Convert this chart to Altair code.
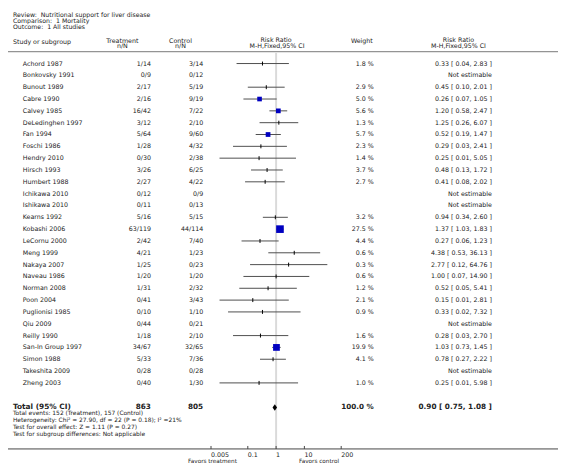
import altair as alt
import pandas as pd

# ---------------- data ----------------
studies = ["Achord 1987", "Bonkovsky 1991", "Bunout 1989", "Cabre 1990", "Calvey 1985",
           "DeLedinghen 1997", "Fan 1994", "Foschi 1986", "Hendry 2010", "Hirsch 1993",
           "Humbert 1988", "Ichikawa 2010", "Ishikawa 2010", "Kearns 1992", "Kobashi 2006",
           "LeCornu 2000", "Meng 1999", "Nakaya 2007", "Naveau 1986", "Norman 2008",
           "Poon 2004", "Puglionisi 1985", "Qiu 2009", "Reilly 1990", "San-In Group 1997",
           "Simon 1988", "Takeshita 2009", "Zheng 2003"]
treatment_nN = ["1/14", "0/9", "2/17", "2/16", "16/42", "3/12", "5/64", "1/28", "0/30", "3/26",
                "2/27", "0/12", "0/11", "5/16", "63/119", "2/42", "4/21", "1/25", "1/20", "1/31",
                "0/41", "0/10", "0/44", "1/18", "34/67", "5/33", "0/28", "0/40"]
control_nN = ["3/14", "0/12", "5/19", "9/19", "7/22", "2/10", "9/60", "4/32", "2/38", "6/25",
              "4/22", "0/9", "0/13", "5/15", "44/114", "7/40", "1/23", "0/23", "1/20", "2/32",
              "3/43", "1/10", "0/21", "2/10", "32/65", "7/36", "0/28", "1/30"]
weight = [1.8, None, 2.9, 5.0, 5.6, 1.3, 5.7, 2.3, 1.4, 3.7, 2.7, None, None, 3.2, 27.5,
          4.4, 0.6, 0.3, 0.6, 1.2, 2.1, 0.9, None, 1.6, 19.9, 4.1, None, 1.0]
rr = [0.33, None, 0.45, 0.26, 1.20, 1.25, 0.52, 0.29, 0.25, 0.48, 0.41, None, None, 0.94, 1.37,
      0.27, 4.38, 2.77, 1.00, 0.52, 0.15, 0.33, None, 0.28, 1.03, 0.78, None, 0.25]
ci_low = [0.04, None, 0.10, 0.07, 0.58, 0.26, 0.19, 0.03, 0.01, 0.13, 0.08, None, None, 0.34, 1.03,
          0.06, 0.53, 0.12, 0.07, 0.05, 0.01, 0.02, None, 0.03, 0.73, 0.27, None, 0.01]
ci_high = [2.83, None, 2.01, 1.05, 2.47, 6.07, 1.47, 2.41, 5.05, 1.72, 2.02, None, None, 2.60, 1.83,
           1.23, 36.13, 64.76, 14.90, 5.41, 2.81, 7.32, None, 2.70, 1.45, 2.22, None, 5.98]

total_treatment = "863"
total_control = "805"
total_weight = 100.0
total_rr, total_low, total_high = 0.90, 0.75, 1.08

tick_values = [0.005, 0.1, 1, 10, 200]
tick_labels = ["0.005", "0.1", "1", "10", "200"]

header_lines = ["Review:\u00a0 Nutritional support for liver disease",
                "Comparison:\u00a0 1 Mortality",
                "Outcome:\u00a0 1 All studies"]
footer_lines = ["Total events: 152 (Treatment), 157 (Control)",
                "Heterogeneity: Chi\u00b2 = 27.90, df = 22 (P = 0.18); I\u00b2 =21%",
                "Test for overall effect: Z = 1.11 (P = 0.27)",
                "Test for subgroup differences: Not applicable"]

# ---------------- tables ----------------
df = pd.DataFrame({
    "study": studies, "treat": treatment_nN, "ctrl": control_nN,
    "weight": weight, "rr": rr, "lo": ci_low, "hi": ci_high,
})
df["row"] = range(len(df))
df["wtxt"] = [f"{w:.1f} %" if w is not None else "" for w in weight]
df["etxt"] = [f"{r:.2f} [ {l:.2f}, {h:.2f} ]" if r is not None else "Not estimable"
              for r, l, h in zip(rr, ci_low, ci_high)]

total_row = len(studies) + 1.08
diamond = pd.DataFrame({
    "x": [total_low, total_rr, total_high],
    "y": [total_row, total_row - 0.27, total_row],
    "y2": [total_row, total_row + 0.27, total_row],
})
ticks = pd.DataFrame({"v": tick_values, "lab": tick_labels})
ref = pd.DataFrame({"v": [1]})
one = pd.DataFrame({"a": [0]})

FONT = "DejaVu Sans"
TXT = "#222222"
FS = 6.4

xscale = alt.Scale(type="log", domain=[0.001, 1000], range=[185.9, 358.1], nice=False)
yscale = alt.Scale(domain=[0, 29], range=[53, 401], nice=False, zero=False)


def txt(s, x, y, size=FS, align="left", bold=False):
    return alt.Chart(one).mark_text(
        text=s, align=align, baseline="middle", font=FONT, fontSize=size,
        fontWeight="bold" if bold else "normal", color=TXT
    ).encode(x=alt.value(x), y=alt.value(y))


def col(field, x, align):
    return alt.Chart(df).mark_text(
        align=align, baseline="middle", font=FONT, fontSize=FS, color=TXT
    ).encode(x=alt.value(x), y=alt.Y("row:Q", scale=yscale, axis=None), text=f"{field}:N")


layers = []
# header texts
for i, s in enumerate(header_lines):
    layers.append(txt(s, 5, 3.8 + 6.1 * i, size=6.3))
layers += [
    txt("Study or subgroup", 5, 31),
    txt("Treatment", 116, 30, align="center"), txt("n/N", 116, 35.5, align="center"),
    txt("Control", 175, 30, align="center"), txt("n/N", 175, 35.5, align="center"),
    txt("Risk Ratio", 272, 29.5, align="center"), txt("M-H,Fixed,95% CI", 273, 35.5, align="center"),
    txt("Weight", 359, 30, align="center"),
    txt("Risk Ratio", 457, 29.5, align="center"), txt("M-H,Fixed,95% CI", 457, 35.5, align="center"),
]
# header rule
layers.append(alt.Chart(one).mark_rule(color="#777777", strokeWidth=1).encode(
    x=alt.value(0), x2=alt.value(558), y=alt.value(41)))
# reference line at RR = 1
layers.append(alt.Chart(ref).mark_rule(color="#dadada", strokeWidth=2).encode(
    x=alt.X("v:Q", scale=xscale, axis=None), y=alt.value(42), y2=alt.value(444)))
# axis line (full width)
layers.append(alt.Chart(one).mark_rule(color="#444444", strokeWidth=1).encode(
    x=alt.value(0), x2=alt.value(558), y=alt.value(444)))

# confidence intervals
layers.append(alt.Chart(df).transform_filter("isValid(datum.rr)").mark_rule(
    color="#4d4d4d", strokeWidth=1).encode(
    x=alt.X("lo:Q", scale=xscale, axis=None), x2="hi:Q",
    y=alt.Y("row:Q", scale=yscale, axis=None)))
# small-weight point estimates as ticks
layers.append(alt.Chart(df).transform_filter("isValid(datum.rr) && datum.weight < 4.5").mark_rule(
    color="black", strokeWidth=1, yOffset=-2, y2Offset=2).encode(
    x=alt.X("rr:Q", scale=xscale, axis=None),
    y=alt.Y("row:Q", scale=yscale, axis=None), y2="row:Q"))
# weighted squares
layers.append(alt.Chart(df).transform_filter("isValid(datum.rr) && datum.weight >= 4.5").mark_square(
    color="#0000c0", opacity=1).encode(
    x=alt.X("rr:Q", scale=xscale, axis=None),
    y=alt.Y("row:Q", scale=yscale, axis=None),
    size=alt.Size("weight:Q", scale=alt.Scale(domain=[5, 27.5], range=[22, 60]), legend=None)))
# total diamond
layers.append(alt.Chart(diamond).mark_area(color="black", orient="vertical").encode(
    x=alt.X("x:Q", scale=xscale, axis=None),
    y=alt.Y("y:Q", scale=yscale, axis=None), y2="y2:Q"))

# table columns
layers += [col("study", 15, "left"), col("treat", 145, "right"), col("ctrl", 198, "right"),
           col("wtxt", 371, "right"), col("etxt", 491, "right")]

# total row
ty = 53 + 12 * total_row
layers += [
    txt("Total (95% CI)", 5, ty, size=7.5, bold=True),
    txt(total_treatment, 145, ty, size=7.4, align="right", bold=True),
    txt(total_control, 198, ty, size=7.4, align="right", bold=True),
    txt(f"{total_weight:.1f} %", 371, ty, size=7.3, align="right", bold=True),
    txt(f"{total_rr:.2f} [ {total_low:.2f}, {total_high:.2f} ]", 491, ty, size=7.4,
        align="right", bold=True),
]
for i, s in enumerate(footer_lines):
    layers.append(txt(s, 5, 408 + 7 * i, size=6.0))

# axis ticks and labels
layers.append(alt.Chart(ticks).mark_rule(color="#444444", strokeWidth=1).encode(
    x=alt.X("v:Q", scale=xscale, axis=None), y=alt.value(441), y2=alt.value(444)))
layers.append(alt.Chart(ticks).mark_text(
    align="left", baseline="middle", font=FONT, fontSize=6.4, color=TXT).encode(
    x=alt.X("v:Q", scale=xscale, axis=None), y=alt.value(450), text="lab:N"))
layers += [txt("Favors treatment", 207.5, 456, size=5.8, align="center"),
           txt("Favors control", 315.5, 456, size=5.8, align="center")]

chart = alt.layer(*layers).properties(
    width=558, height=461, padding=0,
    autosize=alt.AutoSizeParams(type="none"),
).configure_view(strokeWidth=0)

chart.save("out.html", embed_options={"renderer": "svg", "actions": False})
